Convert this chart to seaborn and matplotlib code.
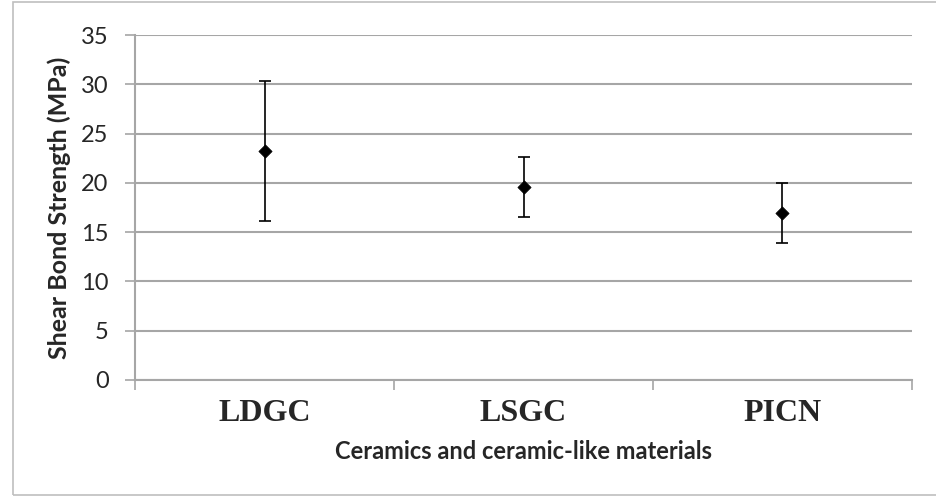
import matplotlib
matplotlib.use("Agg")
import matplotlib.pyplot as plt
import seaborn as sns
from matplotlib.patches import Rectangle

# ── Data ──────────────────────────────────────────────────────────────────────
materials = ["LDGC", "LSGC", "PICN"]
mean_strength = [23.2, 19.6, 16.9]
sd_strength = [7.1, 3.05, 3.05]
y_ticks = [0, 5, 10, 15, 20, 25, 30, 35]

GRID = "#a6a6a6"

sns.set_theme(style="white")
plt.rcParams["font.family"] = ["Lato", "DejaVu Sans"]

fig = plt.figure(figsize=(9.37, 4.97), dpi=100)
ax = fig.add_axes([135 / 937, 117 / 497, 777 / 937, 345 / 497])

# outer chart-area frame
fig.patches.append(Rectangle((13 / 937, 2 / 497), 1.0, 493 / 497,
                             transform=fig.transFigure, fill=False,
                             edgecolor="#bfbfbf", linewidth=1.2, zorder=0))

# mean markers + SD bars
sns.scatterplot(x=materials, y=mean_strength, marker="D", s=45,
                color="black", edgecolor="black", ax=ax, zorder=4)
ax.errorbar(materials, mean_strength, yerr=sd_strength, fmt="none",
            ecolor="black", elinewidth=1.2, capsize=4.5, capthick=1.2, zorder=3)

# ── Axes styling ──────────────────────────────────────────────────────────────
ax.set_xlim(-0.5, len(materials) - 0.5)
ax.set_ylim(0, 35)
ax.set_yticks(y_ticks)
ax.yaxis.grid(True, color=GRID, linewidth=1.5)
ax.set_axisbelow(True)

for side in ["top", "right"]:
    ax.spines[side].set_visible(False)
for side in ["left", "bottom"]:
    ax.spines[side].set_color(GRID)
    ax.spines[side].set_linewidth(1.5)

ax.set_xticks(range(len(materials)))
ax.set_xticklabels(materials, fontfamily="Liberation Serif",
                   fontweight="bold", fontsize=23)
ax.set_xticks([i - 0.5 for i in range(len(materials) + 1)], minor=True)
ax.tick_params(axis="x", which="major", length=0, pad=14)
ax.tick_params(axis="x", which="minor", length=7, width=1.2,
               color=GRID, direction="out", bottom=True)
ax.tick_params(axis="y", length=7, width=1.2, color=GRID,
               direction="out", left=True, labelsize=17, pad=12)

ax.set_xlabel("Ceramics and ceramic-like materials", fontsize=17,
              fontweight="bold", labelpad=8)
ax.set_ylabel("Shear Bond Strength (MPa)", fontsize=18,
              fontweight="bold", labelpad=7)

fig.savefig("out.png", dpi=100)
